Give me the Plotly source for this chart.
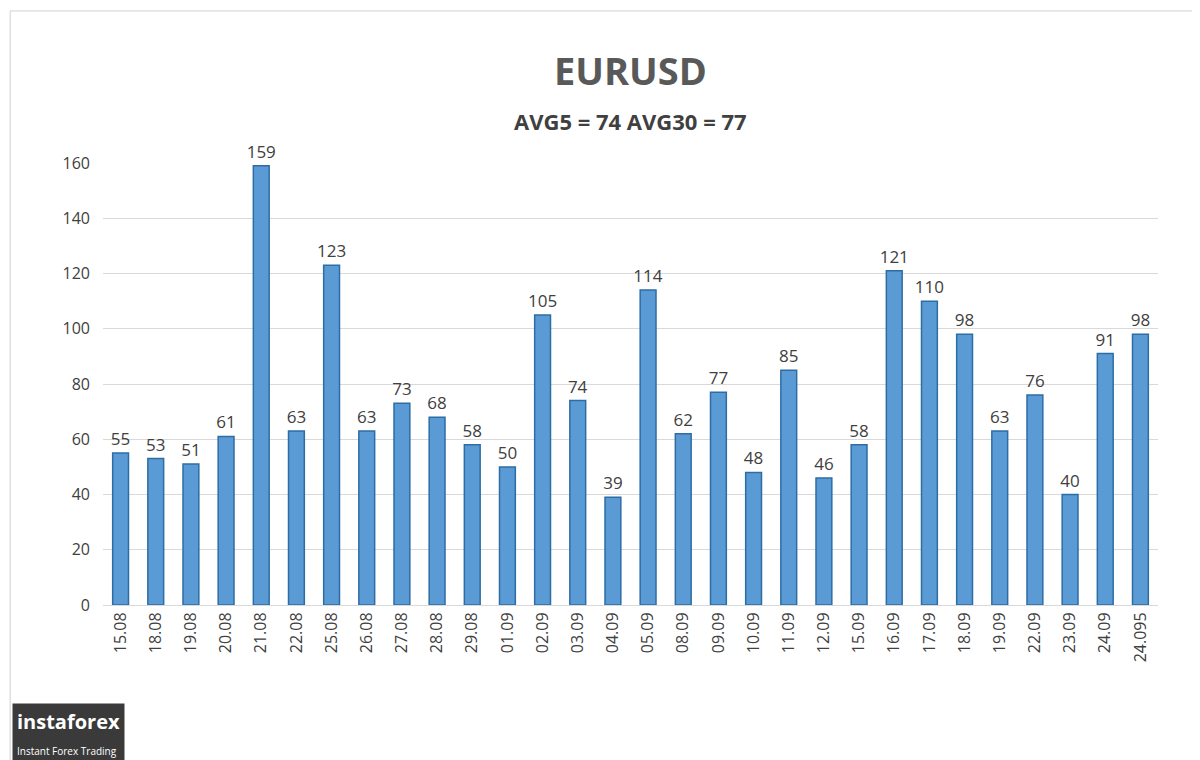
import plotly.graph_objects as go

dates = ["15.08", "18.08", "19.08", "20.08", "21.08", "22.08", "25.08", "26.08", "27.08", "28.08",
         "29.08", "01.09", "02.09", "03.09", "04.09", "05.09", "08.09", "09.09", "10.09", "11.09",
         "12.09", "15.09", "16.09", "17.09", "18.09", "19.09", "22.09", "23.09", "24.09", "24.095"]
values = [55, 53, 51, 61, 159, 63, 123, 63, 73, 68,
          58, 50, 105, 74, 39, 114, 62, 77, 48, 85,
          46, 58, 121, 110, 98, 63, 76, 40, 91, 98]

fig = go.Figure()
fig.add_trace(go.Bar(
    x=dates, y=values, text=values, textposition="outside",
    textfont=dict(size=17, color="#404040"),
    marker=dict(color="#5B9BD5", line=dict(color="#2E6DA4", width=1.5)),
    width=0.45, cliponaxis=False,
))

fig.update_layout(
    width=1200, height=760,
    paper_bgcolor="white", plot_bgcolor="white",
    margin=dict(l=95, r=50, t=155, b=163),
    font=dict(family="Open Sans, DejaVu Sans", color="#404040"),
    showlegend=False,
    uniformtext=dict(minsize=17, mode="show"),
    xaxis=dict(tickangle=-90, tickfont=dict(size=16, color="#404040"),
               showline=True, linecolor="#D9D9D9", ticks=""),
    yaxis=dict(range=[0, 160], dtick=20, tickfont=dict(size=16, color="#404040"),
               gridcolor="#D9D9D9", zeroline=False, ticks="", ticklabelstandoff=12),
    shapes=[dict(type="rect", xref="paper", yref="paper", x0=-0.088, x1=1.045,
                 y0=-0.362, y1=1.344, line=dict(color="#D0D0D0", width=1))],
    annotations=[
        dict(text="<b>EURUSD</b>", xref="paper", yref="paper", x=0.5, y=1.21,
             xanchor="center", yanchor="middle", showarrow=False,
             font=dict(size=38, color="#595959")),
        dict(text="<b>AVG5 = 74 AVG30 = 77</b>", xref="paper", yref="paper", x=0.5, y=1.095,
             xanchor="center", yanchor="middle", showarrow=False,
             font=dict(size=22, color="#404040")),
        dict(text="<b>instaforex</b><br><span style='font-size:10px'>Instant Forex Trading</span>",
             xref="paper", yref="paper", x=-0.086, y=-0.357, xanchor="left", yanchor="bottom",
             showarrow=False, align="left", bgcolor="#3a3a3a", borderpad=4,
             font=dict(size=20, color="white")),
    ],
)

fig.write_html("out.html")
